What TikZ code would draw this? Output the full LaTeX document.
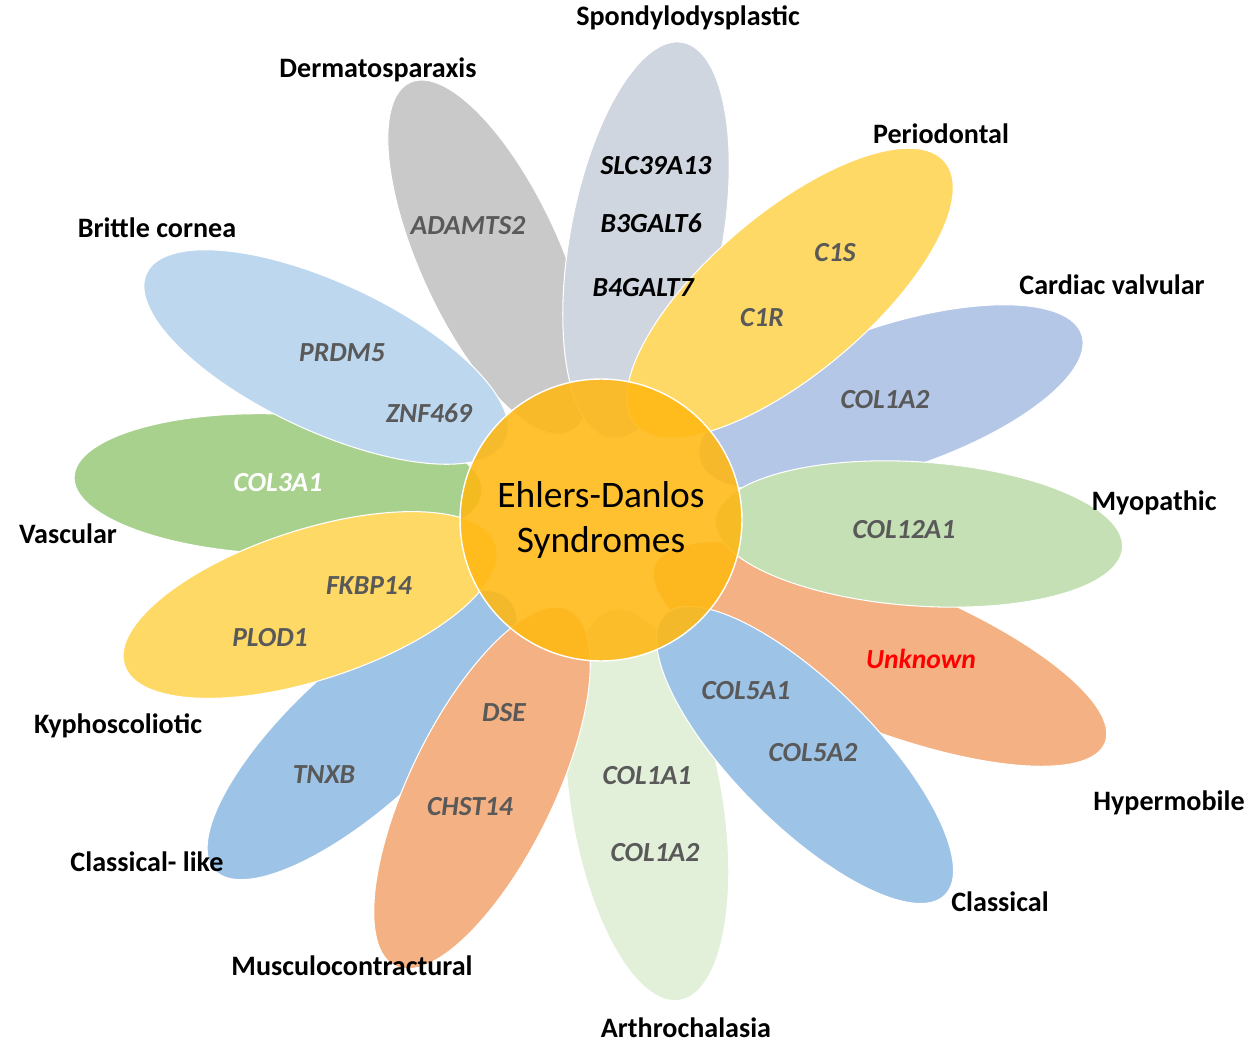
\documentclass[tikz,border=0pt]{standalone}
\usepackage{fontspec}
\setmainfont{Carlito}
\usepackage{xcolor}
\usepackage{tikz}
\definecolor{spondy}{HTML}{CFD6E0}
\definecolor{derma}{HTML}{C9C9C9}
\definecolor{amarillo}{HTML}{FFD966}
\definecolor{cornea}{HTML}{BDD7EE}
\definecolor{cardiac}{HTML}{B4C7E7}
\definecolor{myo}{HTML}{C5E0B4}
\definecolor{vasc}{HTML}{A9D18E}
\definecolor{salmon}{HTML}{F4B183}
\definecolor{clasico}{HTML}{9DC3E6}
\definecolor{arthro}{HTML}{E2F0D9}
\definecolor{hubfill}{HTML}{FFB812}
\definecolor{gengris}{HTML}{595959}
\tikzset{
  petal/.style={draw=white,line width=0.6pt},
  hub/.style={circle,draw=white,line width=0.8pt,fill=hubfill,fill opacity=0.88,text opacity=1,
    minimum size=5.64cm,inner sep=0pt,align=center,font=\fontsize{21.3}{26}\selectfont},
  tipo/.style={font=\fontsize{16}{18}\selectfont\bfseries,inner sep=1pt},
  gen/.style={font=\fontsize{15.7}{18}\selectfont\bfseries\itshape,text=gengris,inner sep=1pt}
}

\begin{document}
\begin{tikzpicture}[x=0.02cm,y=0.02cm]
\useasboundingbox (0,0) rectangle (1250,-1047);
% lower petals
\foreach \cx/\cy/\ang/\ra/\rb/\col in {490/-257/114.6/192/70/derma, 891/-398/18.4/201/72/cardiac,
  880/-654/-21.5/242/74/salmon, 647/-805/-80.5/198/76/arthro, 362/-735/-137.5/200/70/clasico,
  278/-484/178/204/70/vasc}
  \draw[petal,fill=\col,rotate around={\ang:(\cx,\cy)}] (\cx,\cy) ellipse ({\ra} and {\rb});
% upper petals
\foreach \cx/\cy/\ang/\ra/\rb/\col in {646/-240/79.5/201/76/spondy, 790/-293/40.3/203/80/amarillo,
  919/-534/-3.9/204/72/myo, 805/-755/-45/198/70/clasico, 482/-788/-116/198/72/salmon,
  310/-605/-162/195/75/amarillo, 326/-357/155/198/74/cornea}
  \draw[petal,fill=\col,rotate around={\ang:(\cx,\cy)}] (\cx,\cy) ellipse ({\ra} and {\rb});
% centre
\node[hub] (eds) at (601,-520) {Ehlers-Danlos\\Syndromes};
% types
\node[tipo] (spon) at (688,-18) {Spondylodysplastic};
\node[tipo] (derm) at (378,-70) {Dermatosparaxis};
\node[tipo] (peri) at (941,-134) {Periodontal};
\node[tipo] (brit) at (157,-228) {Brittle cornea};
\node[tipo] (card) at (1112,-285) {Cardiac valvular};
\node[tipo] (myop) at (1154,-503) {Myopathic};
\node[tipo] (vasc) at (68,-534) {Vascular};
\node[tipo] (kyph) at (118,-726) {Kyphoscoliotic};
\node[tipo] (hype) at (1169,-803) {Hypermobile};
\node[tipo] (clal) at (147,-862) {Classical- like};
\node[tipo] (clas) at (1000,-902) {Classical};
\node[tipo] (musc) at (352,-966) {Musculocontractural};
\node[tipo,inner sep=0pt] (arth) at (686,-1028) {Arthrochalasia};
% genes
\node[gen,text=black] (slc) at (656,-166) {SLC39A13};
\node[gen,text=black] (b3g) at (651,-223) {B3GALT6};
\node[gen,text=black] (b4g) at (643,-288) {B4GALT7};
\node[gen] (adam) at (468,-226) {ADAMTS2};
\node[gen] (c1s) at (835,-253) {C1S};
\node[gen] (c1r) at (762,-318) {C1R};
\node[gen] (prdm) at (342,-353) {PRDM5};
\node[gen] (znf) at (429,-413) {ZNF469};
\node[gen] (c1a2a) at (885,-400) {COL1A2};
\node[gen,text=white] (c3a1) at (278,-483) {COL3A1};
\node[gen] (c12a1) at (904,-530) {COL12A1};
\node[gen] (fkbp) at (369,-586) {FKBP14};
\node[gen] (plod) at (270,-638) {PLOD1};
\node[gen,text=red] (unk) at (921,-659) {Unknown};
\node[gen] (c5a1) at (746,-691) {COL5A1};
\node[gen] (c5a2) at (813,-753) {COL5A2};
\node[gen] (dse) at (504,-713) {DSE};
\node[gen] (chst) at (470,-807) {CHST14};
\node[gen] (tnxb) at (324,-775) {TNXB};
\node[gen] (c1a1) at (647,-776) {COL1A1};
\node[gen] (c1a2b) at (655,-853) {COL1A2};
\end{tikzpicture}
\end{document}
